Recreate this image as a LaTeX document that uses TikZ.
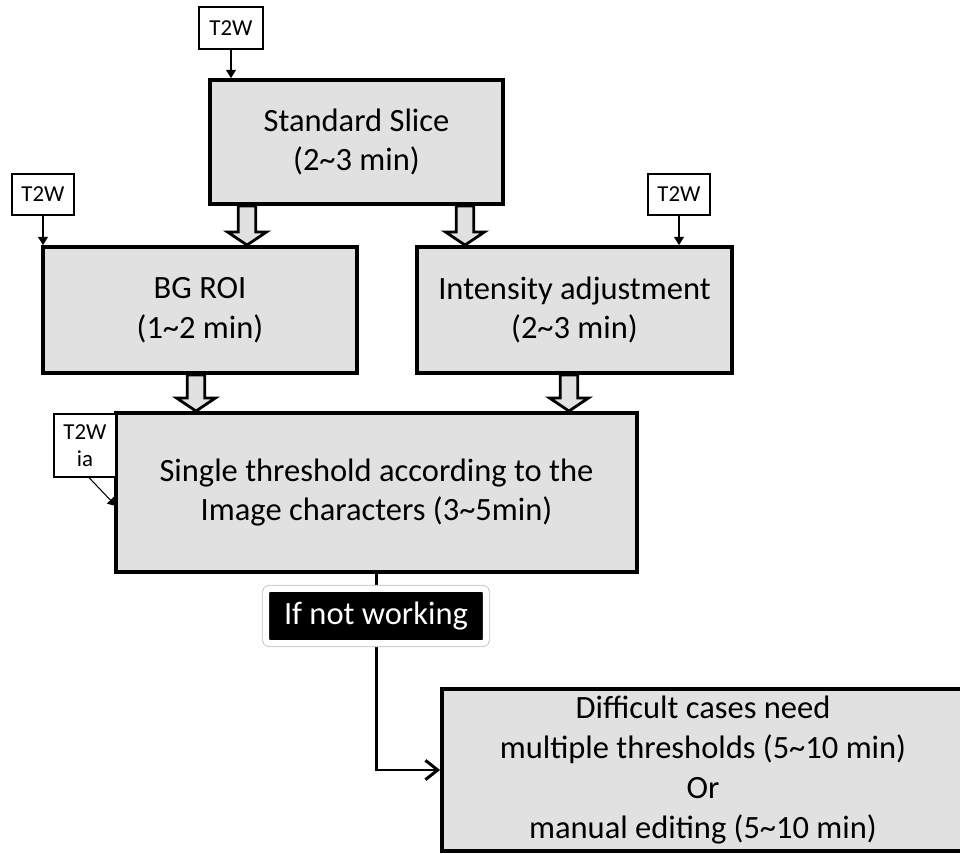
\documentclass[tikz,border=0pt]{standalone}
\usepackage{fontspec}
\setmainfont{Carlito}
\usetikzlibrary{arrows.meta,calc}

\definecolor{boxgray}{RGB}{225,225,225}
\newcommand\tildech{\textasciitilde}

% hollow block arrow pointing down from #1 to #2
\newcommand\blockarr[2]{%
  \draw[barrow] let \p1=#1, \p2=#2 in
    (\x1-5pt,\y1) -- (\x1-5pt,\y2+7.4pt) -- (\x1-11pt,\y2+7.4pt)
    -- (\x1,\y2) -- (\x1+11pt,\y2+7.4pt) -- (\x1+5pt,\y2+7.4pt)
    -- (\x1+5pt,\y1) -- cycle;}

\begin{document}
\begin{tikzpicture}[x=0.02cm,y=-0.02cm,
  stepbox/.style={draw, line width=2.2pt, fill=boxgray, align=center, inner sep=0pt,
    font=\fontsize{18.5}{22.7}\selectfont},
  tagbox/.style={draw, line width=0.7pt, fill=white, align=center, inner sep=0pt,
    font=\fontsize{13}{15}\selectfont},
  tagarrow/.style={line width=0.6pt, -{Triangle[length=4.6pt,width=5.6pt]}},
  barrow/.style={draw, line width=1.6pt, fill=boxgray, line join=miter},
  flowline/.style={line width=1.7pt, -{Straight Barb[length=7pt,width=11pt]}},
  notbox/.style={fill=black, text=white, draw=white, line width=3.4pt, rounded corners=2pt,
    inner sep=0pt, minimum width=4.4cm, minimum height=1.08cm,
    preaction={draw=black!18, line width=4.8pt},
    font=\fontsize{18.5}{22.7}\selectfont}]

\useasboundingbox (0,0) rectangle (960,854);

% process steps
\node[stepbox, minimum width=5.86cm, minimum height=2.48cm] (ss) at (356.5,142)
  {Standard Slice\\(2\tildech3 min)};
\node[stepbox, minimum width=6.28cm, minimum height=2.52cm] (bg) at (200,310)
  {BG ROI\\(1\tildech2 min)};
\node[stepbox, minimum width=6.30cm, minimum height=2.52cm] (ia) at (574.5,310)
  {Intensity adjustment\\(2\tildech3 min)};
\node[stepbox, minimum width=10.42cm, minimum height=3.18cm] (st) at (376.5,492.5)
  {Single threshold according to the\\Image characters (3\tildech5min)};
\node[stepbox, minimum width=10.44cm, minimum height=3.24cm] (df) at (703,770)
  {Difficult cases need\\multiple thresholds (5\tildech10 min)\\Or\\manual editing (5\tildech10 min)};

% image inputs
\node[tagbox, minimum width=1.28cm, minimum height=0.84cm] (t1) at (231,28) {T2W};
\node[tagbox, minimum width=1.24cm, minimum height=0.82cm] (t2) at (43,194.5) {T2W};
\node[tagbox, minimum width=1.24cm, minimum height=0.82cm] (t3) at (679,194.5) {T2W};
\node[tagbox, minimum width=1.24cm, minimum height=1.26cm] (tia) at (85,445.5) {T2W\\ia};

\draw[tagarrow] (t1.south) -- (t1.south |- ss.north);
\draw[tagarrow] (t2.south) -- (t2.south |- bg.north);
\draw[tagarrow] (t3.south) -- (t3.south |- ia.north);
\coordinate (tiaend) at (116,506);
\draw[tagarrow] ([xshift=0.08cm]tia.south) -- (tiaend);

% block arrows between steps
\coordinate (xa) at (247,0);
\coordinate (xb) at (465,0);
\coordinate (xc) at (196,0);
\coordinate (xd) at (569,0);
\blockarr{(ss.south -| xa)}{(bg.north -| xa)}
\blockarr{(ss.south -| xb)}{(ia.north -| xb)}
\blockarr{(bg.south -| xc)}{(st.north -| xc)}
\blockarr{(ia.south -| xd)}{(st.north -| xd)}

% fallback branch
\draw[flowline] (st.south) -- (st.south |- df.west) -- (df.west);
\node[notbox] (nw) at (376,616) {If not working};

\end{tikzpicture}
\end{document}
